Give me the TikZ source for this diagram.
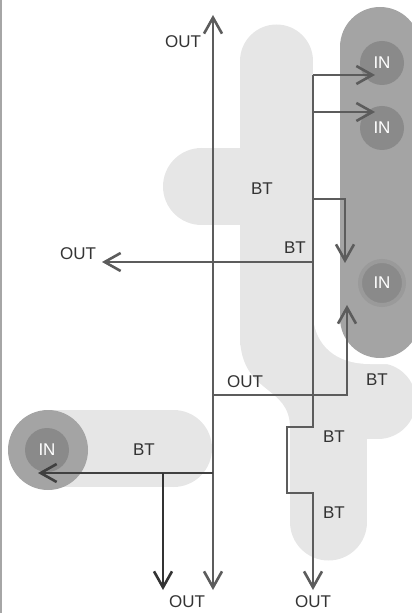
\documentclass[tikz,border=0pt]{standalone}
\usepackage{fontspec}
\setmainfont{Liberation Sans}
\usetikzlibrary{arrows.meta,positioning}

\definecolor{blobcol}{HTML}{E6E6E6}
\definecolor{darkcol}{HTML}{A4A4A4}
\definecolor{incol}{HTML}{8A8A8A}
\definecolor{ringcol}{HTML}{9A9A9A}
\definecolor{wirecol}{HTML}{5C5C5C}
\definecolor{txtcol}{HTML}{333333}

\begin{document}
\begin{tikzpicture}[
      x=0.5pt, y=-0.5pt,
      lbl/.style={text=txtcol, font=\fontsize{8.5pt}{10pt}\selectfont, inner sep=0pt},
      innode/.style={circle, fill=incol, text=white, minimum size=22pt, inner sep=0pt, font=\fontsize{8.5pt}{10pt}\selectfont},
      wire/.style={draw=wirecol, line width=1.3pt},
      flow/.style={wire, -{Straight Barb[length=8pt,width=9pt]}},
      both/.style={wire, {Straight Barb[length=8pt,width=9pt]}-{Straight Barb[length=8pt,width=9pt]}}
    ]
    \useasboundingbox (0,0) rectangle (411,613);
    \draw[gray!70, line width=0.6pt] (1,0) -- (1,613);

    % light BT areas
    \fill[blobcol] (240,61) rectangle (313,345);
    \fill[blobcol] (276.5,61) circle (36.5);
    \fill[blobcol] (201,148) rectangle (241,225);
    \fill[blobcol] (201.5,186.5) circle (38.5);
    \fill[blobcol] (240,340) .. controls (243,395) and (290,385) .. (290,428) -- (313,428) -- (313,340) -- cycle;
    \fill[blobcol] (290,425) rectangle (367,522);
    \fill[blobcol] (328.5,522) circle (38.5);
    \fill[blobcol] (313,300) rectangle (378,439);
    \fill[blobcol] (378,401) circle (38);
    \fill[white] (313,290) -- (313,318) .. controls (316,345) and (335,364) .. (370,364) -- (420,364) -- (420,290) -- cycle;
    \fill[blobcol] (48,410) rectangle (174,487);
    \fill[blobcol] (173.5,448.5) circle (38.5);

    % dark IN column
    \fill[darkcol] (340,47) rectangle (420,318);
    \fill[darkcol] (380,47) circle (40);
    \fill[darkcol] (380,318) circle (40);
    \fill[darkcol] (48,450) circle (40);

    % IN nodes
    \node[innode] (in1) at (382,63) {IN};
    \node[innode] (in2) at (382,128) {IN};
    \node[innode, draw=ringcol, line width=2pt] (in3) at (382,283) {IN};
    \node[innode] (in4) at (47,450) {IN};

    % BT labels
    \node[lbl] (bt1) at (262,189) {BT};
    \node[lbl] (bt2) at (295,248) {BT};
    \node[lbl] (bt3) at (377,380) {BT};
    \node[lbl] (bt4) at (334,437) {BT};
    \node[lbl] (bt5) at (334,513) {BT};
    \node[lbl] (bt6) at (144,450) {BT};

    % OUT labels
    \node[lbl] (outT) at (183,42) {OUT};
    \node[lbl] (outL) at (78,254) {OUT};
    \node[lbl] (outM) at (245,382) {OUT};
    \node[lbl] (outB1) at (187,602) {OUT};
    \node[lbl] (outB2) at (313,602) {OUT};

    % junctions and tips
    \coordinate (topTip) at (213,15);
    \coordinate (botTip) at (213,590);
    \coordinate (j1) at (313,75);
    \coordinate (tipA) at (375,75);
    \coordinate (j2) at (313,112);
    \coordinate (tipB) at (375,112);
    \coordinate (j3) at (313,199);
    \coordinate (k3) at (345,199);
    \coordinate (tipC) at (345,263);
    \coordinate (j4) at (313,262);
    \coordinate (tipL) at (102,262);
    \coordinate (j5) at (213,395);
    \coordinate (k5) at (347,395);
    \coordinate (tipD) at (347,305);
    \coordinate (j6) at (213,473);
    \coordinate (tipIn) at (38,473);
    \coordinate (j7) at (163,473);
    \coordinate (tipE) at (163,590);
    \coordinate (tipF) at (313,590);

    % connectors
    \draw[both] (botTip) -- (topTip);
    \draw[flow] (j1) -- (313,427) -- (287,427) -- (287,493) -- (313,493) -- (tipF);
    \draw[flow] (j1) -- (tipA);
    \draw[flow] (j2) -- (tipB);
    \draw[flow] (j3) -- (k3) -- (tipC);
    \draw[flow] (j4) -- (tipL);
    \draw[flow] (j5) -- (k5) -- (tipD);
    \draw[flow, draw=black!75] (j6) -- (tipIn);
    \draw[flow, draw=black!80] (j7) -- (tipE);
  \end{tikzpicture}
\end{document}
